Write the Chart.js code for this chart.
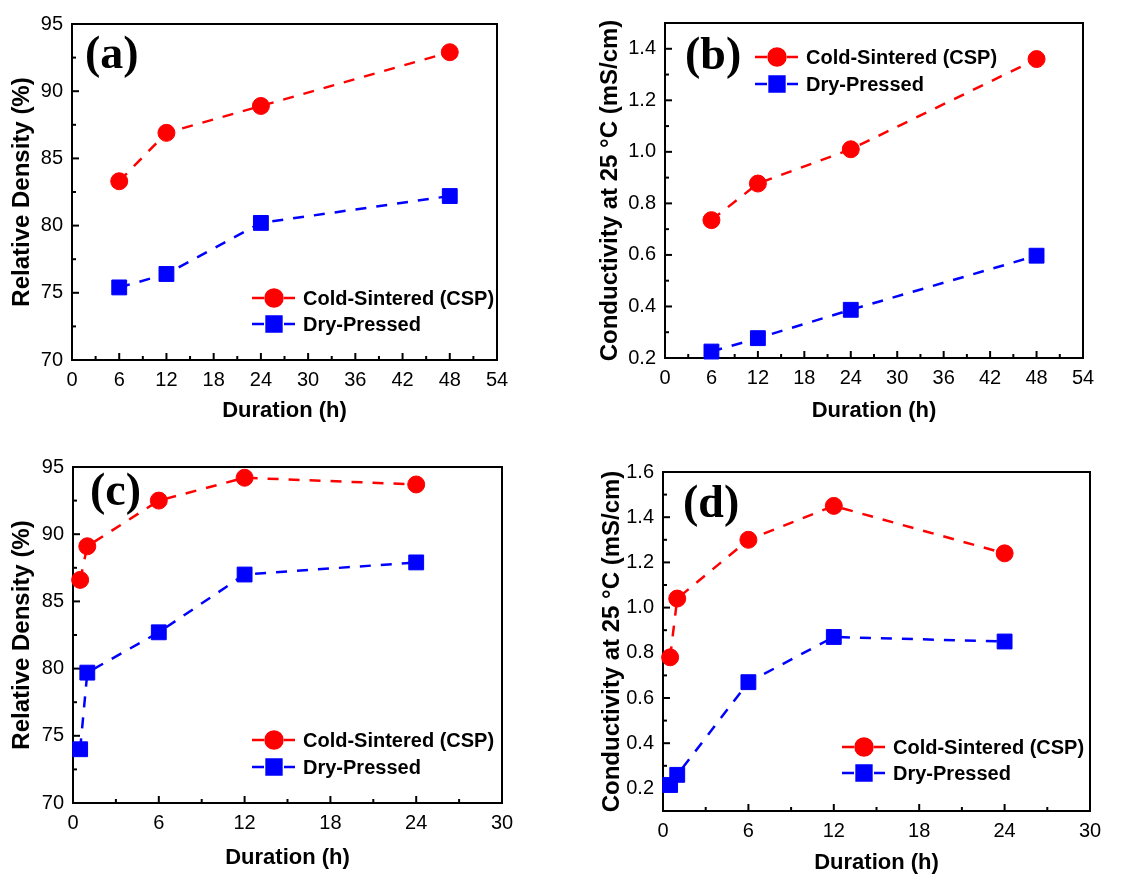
<!DOCTYPE html>
<html>
<head>
<meta charset="utf-8">
<title>Cold sintering vs dry pressing</title>
<script src="https://cdn.jsdelivr.net/npm/chart.js@4.4.0/dist/chart.umd.min.js"></script>
<style>
  html, body { margin: 0; padding: 0; background: #fff; }
  body { width: 1148px; height: 877px; position: relative; overflow: hidden; }
  .panel { position: absolute; }
</style>
</head>
<body>
<div class="panel" style="left:0;top:0;width:560px;height:424px"><canvas id="chartA"></canvas></div>
<div class="panel" style="left:580px;top:0;width:568px;height:424px"><canvas id="chartB"></canvas></div>
<div class="panel" style="left:0;top:440px;width:560px;height:431px"><canvas id="chartC"></canvas></div>
<div class="panel" style="left:580px;top:440px;width:568px;height:436px"><canvas id="chartD"></canvas></div>
<script>
// --- data ---
const seriesNames = ["Cold-Sintered (CSP)", "Dry-Pressed"];
const durationsLong = [6, 12, 24, 48];
const durationsShort = [0.5, 1, 6, 12, 24];

const densityCspA = [83.3, 86.9, 88.9, 92.9];
const densityDryA = [75.4, 76.4, 80.2, 82.2];
const condCspB = [0.735, 0.877, 1.01, 1.36];
const condDryB = [0.225, 0.277, 0.387, 0.597];
const densityCspC = [86.6, 89.1, 92.5, 94.2, 93.7];
const densityDryC = [74.0, 79.7, 82.7, 87.0, 87.9];
const condCspD = [0.78, 1.04, 1.30, 1.45, 1.24];
const condDryD = [0.215, 0.26, 0.67, 0.87, 0.85];

const xTicksLong = [0, 6, 12, 18, 24, 30, 36, 42, 48, 54];
const xTicksShort = [0, 6, 12, 18, 24, 30];
const densityTicks = [70, 75, 80, 85, 90, 95];
const condTicksB = [0.2, 0.4, 0.6, 0.8, 1.0, 1.2, 1.4];
const condTicksD = [0.2, 0.4, 0.6, 0.8, 1.0, 1.2, 1.4, 1.6];

const durationTitle = "Duration (h)";
const densityTitle = "Relative Density (%)";
const condTitle = "Conductivity at 25 \u00B0C (mS/cm)";

const SANS = '"Liberation Sans", Arial, sans-serif';
Chart.defaults.font.family = SANS;
Chart.defaults.color = "#000";

// frame + inward major/minor ticks, drawn under the markers
const paperAxes = {
  id: "paperAxes",
  beforeDatasetsDraw(chart) {
    const { ctx, chartArea: a, scales } = chart;
    ctx.save();
    ctx.strokeStyle = "#000";
    ctx.lineWidth = 2;
    ctx.strokeRect(a.left, a.top, a.right - a.left, a.bottom - a.top);
    const mark = (scale, v, len) => {
      const p = scale.getPixelForValue(v);
      ctx.beginPath();
      if (scale.isHorizontal()) {
        ctx.moveTo(p, a.bottom);
        ctx.lineTo(p, a.bottom - len);
      } else {
        ctx.moveTo(a.left, p);
        ctx.lineTo(a.left + len, p);
      }
      ctx.stroke();
    };
    [scales.x, scales.y].forEach(s => {
      const vals = s.ticks.map(t => t.value);
      vals.forEach((v, i) => {
        mark(s, v, 7);
        if (i < vals.length - 1) mark(s, (v + vals[i + 1]) / 2, 4);
      });
    });
    ctx.restore();
  }
};

// panel tag "(a)" and the in-plot legend
const paperLegend = {
  id: "paperLegend",
  afterDraw(chart, args, opts) {
    const { ctx, chartArea: a } = chart;
    ctx.save();
    ctx.fillStyle = "#000";
    ctx.textAlign = "left";
    ctx.textBaseline = "middle";
    ctx.font = 'bold 46px "Liberation Serif", "Times New Roman", serif';
    ctx.fillText(opts.tag, a.left + opts.tagAt[0], a.top + opts.tagAt[1]);

    chart.data.datasets.forEach((ds, i) => {
      const x0 = a.left + opts.x;
      const y = a.top + opts.rows[i];
      ctx.strokeStyle = ds.borderColor;
      ctx.lineWidth = 2.5;
      ctx.setLineDash([12, 20]);
      ctx.beginPath();
      ctx.moveTo(x0, y);
      ctx.lineTo(x0 + 43, y);
      ctx.stroke();
      ctx.setLineDash([]);
      ctx.fillStyle = ds.backgroundColor;
      Chart.helpers.drawPoint(ctx, { pointStyle: ds.pointStyle, radius: ds.pointRadius, borderWidth: 1, rotation: 0 }, x0 + 22, y);
      ctx.fillStyle = "#000";
      ctx.font = "bold 20px " + SANS;
      ctx.fillText(ds.label, x0 + 51, y + 1);
    });
    ctx.restore();
  }
};

function series(xs, ys, label, color, style, radius) {
  return {
    label: label,
    data: xs.map((x, i) => ({ x: x, y: ys[i] })),
    borderColor: color,
    backgroundColor: color,
    borderWidth: 2.5,
    borderDash: [11, 10],
    pointStyle: style,
    pointRadius: radius,
    pointBorderWidth: 1,
    tension: 0,
    clip: false
  };
}

function makePanel(id, o) {
  new Chart(document.getElementById(id), {
    type: "line",
    data: {
      datasets: [
        series(o.xs, o.csp, seriesNames[0], "#ff0000", "circle", 8.5),
        series(o.xs, o.dry, seriesNames[1], "#0000ff", "rect", 10.5)
      ]
    },
    options: {
      responsive: true,
      maintainAspectRatio: false,
      animation: false,
      events: [],
      layout: { padding: o.pad },
      plugins: {
        legend: { display: false },
        tooltip: { enabled: false },
        paperLegend: o.legend
      },
      scales: {
        x: {
          type: "linear",
          min: o.xRange[0],
          max: o.xRange[1],
          afterBuildTicks: s => { s.ticks = o.xTicks.map(v => ({ value: v })); },
          afterFit: s => { s.height = o.xH; },
          grid: { display: false, drawTicks: false },
          border: { display: false },
          ticks: { padding: 8, font: { size: 20 }, color: "#000", maxRotation: 0, autoSkip: false },
          title: { display: true, text: durationTitle, color: "#000", font: { size: 22, weight: "bold" }, padding: 0 }
        },
        y: {
          type: "linear",
          min: o.yRange[0],
          max: o.yRange[1],
          afterBuildTicks: s => { s.ticks = o.yTicks.map(v => ({ value: v })); },
          afterFit: s => { s.width = o.yW; },
          grid: { display: false, drawTicks: false },
          border: { display: false },
          ticks: { padding: 9, font: { size: 20 }, color: "#000", autoSkip: false, callback: o.fmt },
          title: { display: true, text: o.yTitle, color: "#000", font: { size: 24, weight: "bold" }, padding: { top: o.yTitlePad, bottom: 0 } }
        }
      }
    },
    plugins: [paperAxes, paperLegend]
  });
}

const oneDecimal = v => v.toFixed(1);
const plain = v => String(v);

makePanel("chartA", {
  xs: durationsLong, csp: densityCspA, dry: densityDryA,
  xRange: [0, 54], yRange: [70, 95], xTicks: xTicksLong, yTicks: densityTicks,
  yTitle: densityTitle, fmt: plain,
  pad: { top: 24, right: 63, bottom: 0, left: 0 }, yW: 72, xH: 64, yTitlePad: 8,
  legend: { tag: "(a)", tagAt: [13, 32], x: 180, rows: [274, 300] }
});

makePanel("chartB", {
  xs: durationsLong, csp: condCspB, dry: condDryB,
  xRange: [0, 54], yRange: [0.2, 1.5], xTicks: xTicksLong, yTicks: condTicksB,
  yTitle: condTitle, fmt: oneDecimal,
  pad: { top: 23, right: 65, bottom: 0, left: 0 }, yW: 85, xH: 66, yTitlePad: 16,
  legend: { tag: "(b)", tagAt: [20, 34], x: 90, rows: [34, 61] }
});

makePanel("chartC", {
  xs: durationsShort, csp: densityCspC, dry: densityDryC,
  xRange: [0, 30], yRange: [70, 95], xTicks: xTicksShort, yTicks: densityTicks,
  yTitle: densityTitle, fmt: plain,
  pad: { top: 27, right: 58, bottom: 0, left: 0 }, yW: 73, xH: 68, yTitlePad: 8,
  legend: { tag: "(c)", tagAt: [17, 26], x: 179, rows: [273, 300] }
});

makePanel("chartD", {
  xs: durationsShort, csp: condCspD, dry: condDryD,
  xRange: [0, 30], yRange: [0.1, 1.6], xTicks: xTicksShort, yTicks: condTicksD,
  yTitle: condTitle, fmt: oneDecimal,
  pad: { top: 32, right: 58, bottom: 0, left: 0 }, yW: 83, xH: 65, yTitlePad: 18,
  legend: { tag: "(d)", tagAt: [20, 33], x: 179, rows: [275, 301] }
});
</script>
</body>
</html>
